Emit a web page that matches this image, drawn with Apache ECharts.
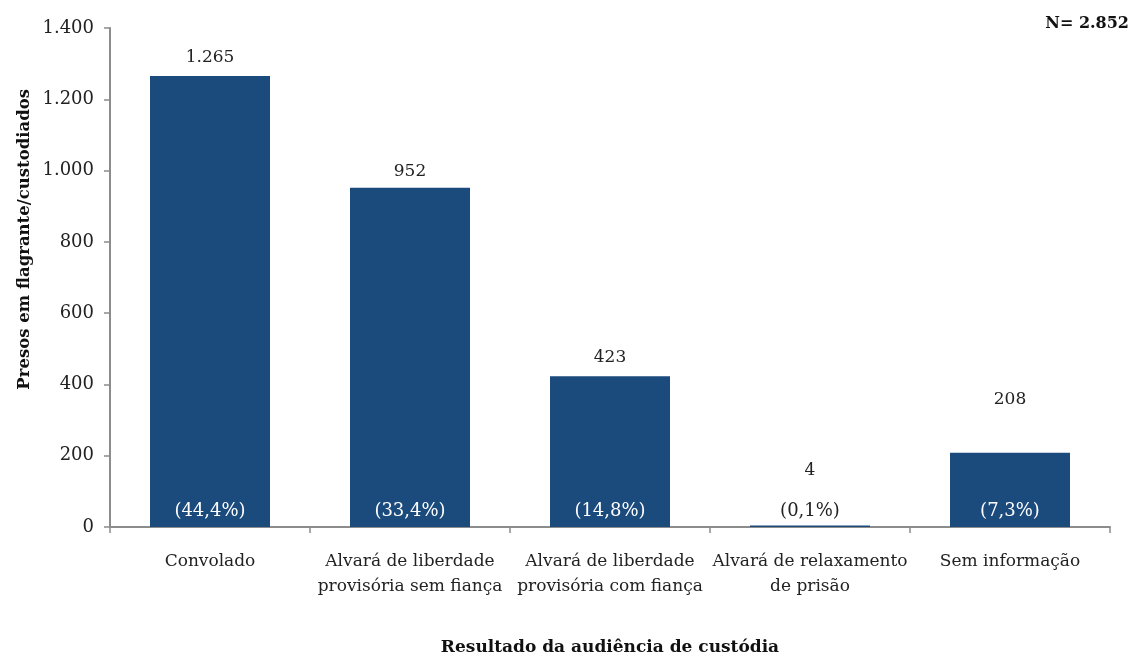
<!DOCTYPE html>
<html>
<head>
<meta charset="utf-8">
<script src="https://cdn.jsdelivr.net/npm/echarts@6/dist/echarts.min.js"></script>
<style>
  html, body { margin: 0; padding: 0; background: #fff; }
  #chart { width: 1139px; height: 657px; }
</style>
</head>
<body>
<div id="chart"></div>
<script>
// dados do gráfico
const categories = [
  'Convolado',
  'Alvará de liberdade\nprovisória sem fiança',
  'Alvará de liberdade\nprovisória com fiança',
  'Alvará de relaxamento\nde prisão',
  'Sem informação'
]
const values = [1265, 952, 423, 4, 208]
const percents = [44.4, 33.4, 14.8, 0.1, 7.3]
const yTicks = [0, 200, 400, 600, 800, 1000, 1200, 1400]
const total = 2852

const font = '"DejaVu Serif", "Liberation Serif", serif'
const barColor = '#1b4a7c'
const axisColor = '#8c8c8c'

// número no formato pt-BR (1.265)
const fmt = (v) => String(v).replace(/\B(?=(\d{3})+(?!\d))/g, '.')
const fmtPct = (p) => '(' + p.toFixed(1).replace('.', ',') + '%)'

// distância do rótulo acima da barra
const labelDist = [10, 8, 10, 46, 45]

const chart = echarts.init(document.getElementById('chart'))
chart.setOption({
  animation: false,
  textStyle: { fontFamily: font },
  title: {
    text: 'N= ' + fmt(total),
    right: 5,
    top: 11,
    textStyle: { fontFamily: font, fontSize: 16, fontWeight: 'bold', color: '#111' }
  },
  graphic: [{
    type: 'text',
    left: 16,
    top: 89,
    rotation: Math.PI / 2,
    style: {
      text: 'Presos em flagrante/custodiados',
      font: 'bold 16.5px ' + font,
      fill: '#111'
    }
  }],
  grid: { left: 110, right: 29, top: 28, bottom: 130, outerBoundsMode: 'none', containLabel: false },
  xAxis: {
    type: 'category',
    data: categories,
    name: 'Resultado da audiência de custódia',
    nameLocation: 'middle',
    nameGap: 112,
    nameTextStyle: { fontFamily: font, fontSize: 17, fontWeight: 'bold', color: '#111' },
    axisLine: { lineStyle: { color: axisColor, width: 2 } },
    axisTick: { show: true, length: 6, alignWithLabel: false, lineStyle: { color: axisColor, width: 1.5 } },
    axisLabel: { fontFamily: font, fontSize: 17, color: '#222', margin: 22, lineHeight: 25, interval: 0 }
  },
  yAxis: {
    type: 'value',
    min: yTicks[0],
    max: yTicks[yTicks.length - 1],
    interval: yTicks[1] - yTicks[0],
    axisLine: { show: true, lineStyle: { color: axisColor, width: 2 } },
    axisTick: { show: true, length: 6, lineStyle: { color: axisColor, width: 1.5 } },
    splitLine: { show: false },
    axisLabel: { fontFamily: font, fontSize: 18, color: '#222', margin: 16, formatter: fmt }
  },
  series: [
    {
      type: 'bar',
      barWidth: '60%',
      itemStyle: { color: barColor },
      data: values.map((v, i) => ({
        value: v,
        label: { distance: labelDist[i] }
      })),
      label: {
        show: true,
        position: 'top',
        fontFamily: font,
        fontSize: 17,
        color: '#222',
        formatter: (p) => fmt(p.value)
      }
    },
    {
      type: 'bar',
      barWidth: '60%',
      barGap: '-100%',
      silent: true,
      itemStyle: { color: 'rgba(0,0,0,0)' },
      data: values.map((v, i) => ({
        value: v,
        label: { color: v < 50 ? '#222' : '#fff' }
      })),
      label: {
        show: true,
        position: 'insideBottom',
        distance: 7,
        fontFamily: font,
        fontSize: 18,
        formatter: (p) => fmtPct(percents[p.dataIndex])
      },
      z: 3
    }
  ]
})
</script>
</body>
</html>
